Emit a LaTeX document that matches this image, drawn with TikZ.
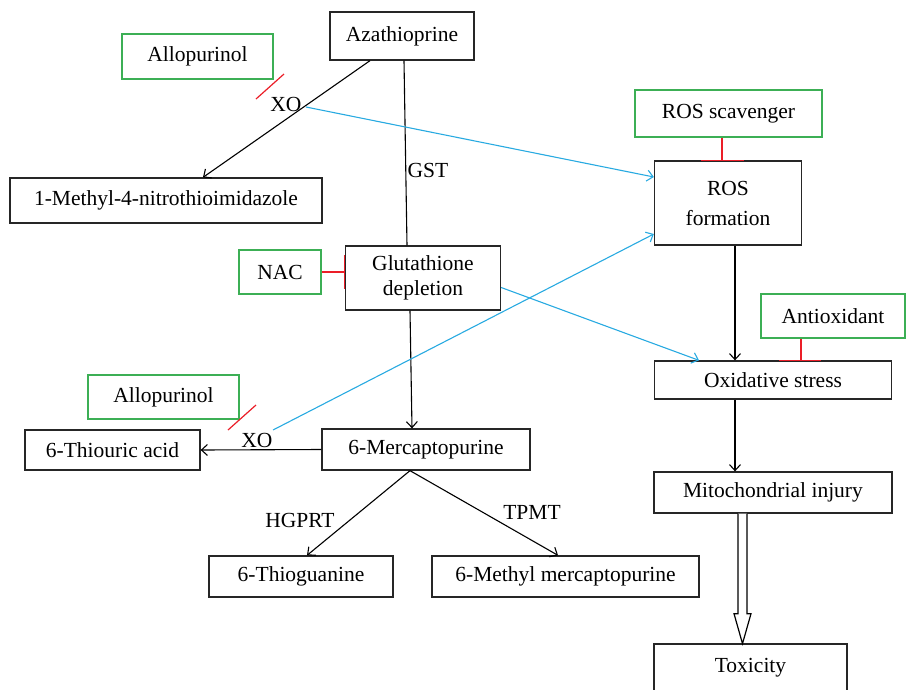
\documentclass[tikz,border=0pt]{standalone}
\usepackage{fontspec}
\setmainfont{Liberation Serif}
\usetikzlibrary{calc,arrows.meta}
\definecolor{grn}{RGB}{60,175,85}
\definecolor{blu}{RGB}{40,170,225}
\definecolor{rd}{RGB}{235,30,40}
\tikzset{
  bx/.style={draw=black!85, line width=1.3pt, inner sep=0pt, align=center, font=\fontsize{21.5}{25}\selectfont},
  gbx/.style={draw=grn, line width=1.1pt, inner sep=0pt, align=center, font=\fontsize{21.5}{25}\selectfont},
  lbl/.style={inner sep=0pt, font=\fontsize{21.5}{25}\selectfont},
  arr/.style={line width=1.1pt, -{Straight Barb[length=6pt,width=11pt,line width=1.1pt]}},
  barr/.style={draw=blu, line width=1.1pt, -{Straight Barb[length=6pt,width=11pt,line width=1.1pt]}},
  inh/.style={draw=rd, line width=1.2pt},
}
\begin{document}
\begin{tikzpicture}[x=1pt,y=-1pt]
\useasboundingbox (0,0) rectangle (906,689);
% nodes
\node[bx, minimum width=144pt, minimum height=48pt] (aza) at (402,36) {Azathioprine};
\node[gbx, minimum width=151pt, minimum height=45pt] (allo1) at (197.5,56.5) {Allopurinol};
\node[bx, minimum width=312pt, minimum height=45pt] (meth) at (166,200.5) {1-Methyl-4-nitrothioimidazole};
\node[bx, minimum width=155pt, minimum height=64pt] (glu) at (423,278) {Glutathione\\depletion};
\node[gbx, minimum width=82pt, minimum height=44pt] (nac) at (280,272) {NAC};
\node[gbx, minimum width=187pt, minimum height=47pt] (scav) at (728.5,113.5) {ROS scavenger};
\node[bx, minimum width=147pt, minimum height=84pt, font=\fontsize{21.5}{30}\selectfont] (ros) at (728,203) {ROS\\formation};
\node[gbx, minimum width=144pt, minimum height=44pt] (antiox) at (833,316) {Antioxidant};
\node[bx, minimum width=237pt, minimum height=38pt] (oxs) at (773,380) {Oxidative stress};
\node[bx, minimum width=238pt, minimum height=41pt] (mito) at (773,492.5) {Mitochondrial injury};
\node[bx, minimum width=193pt, minimum height=48pt] (tox) at (750.5,668) {Toxicity};
\node[bx, minimum width=208pt, minimum height=41pt] (mp) at (426,449.5) {6-Mercaptopurine};
\node[bx, minimum width=175pt, minimum height=40pt] (tua) at (112.5,450) {6-Thiouric acid};
\node[gbx, minimum width=151pt, minimum height=44pt] (allo2) at (163.5,397) {Allopurinol};
\node[bx, minimum width=184pt, minimum height=41pt] (tg) at (301,576.5) {6-Thioguanine};
\node[bx, minimum width=267pt, minimum height=41pt] (mmp) at (565.5,576.5) {6-Methyl mercaptopurine};
% labels
\node[lbl] (xo1) at (286,104) {XO};
\node[lbl] (xo2) at (257,440) {XO};
\node[lbl] (gst) at (428,170) {GST};
\node[lbl] (hgprt) at (300,520) {HGPRT};
\node[lbl] (tpmt) at (532,512) {TPMT};
% black connectors
\draw[arr] ($(aza.south)+(-32,0)$) -- ($(meth.north)+(37,0)$);
\draw[line width=1.1pt] ($(aza.south)+(2,0)$) -- ($(glu.north)+(-16,0)$);
\draw[arr] ($(glu.south)+(-13,0)$) -- ($(mp.north)+(-14,0)$);
\draw[arr] (mp.west) -- (tua.east);
\coordinate (mpb) at ($(mp.south)+(-16,0)$);
\draw[arr] (mpb) -- ($(tg.north)+(6,0)$);
\draw[arr] (mpb) -- ($(mmp.north)+(-7.5,0)$);
\draw[arr] ($(ros.south)+(7,0)$) -- ($(oxs.north)+(-38,0)$);
\draw[arr] ($(oxs.south)+(-38,0)$) -- ($(mito.north)+(-38,0)$);
% double arrow
\draw[line width=1.2pt, fill=white] ($(mito.south)+(-35,0)$) -- ++(0,100) -- ++(-4,0) -- ++(8.5,30) -- ++(8.5,-30) -- ++(-4,0) -- ++(0,-100);
% blue connectors
\coordinate (b1) at (306,107);
\draw[barr] (b1) -- ($(ros.west)+(0,-26)$);
\coordinate (b2) at (273,430);
\draw[barr] (b2) -- ($(ros.west)+(0,31)$);
\draw[barr] ($(glu.east)+(0,9.5)$) -- ($(oxs.north)+(-74,0)$);
% inhibitions
\coordinate (r1a) at (256,99); \coordinate (r1b) at (284,74);
\draw[inh] (r1a) -- (r1b);
\coordinate (r2a) at (228,430); \coordinate (r2b) at (256,405);
\draw[inh] (r2a) -- (r2b);
\draw[inh] (nac.east) -- (nac.east -| glu.west);
\draw[inh] ($(nac.east -| glu.west)+(0,-17)$) -- ($(nac.east -| glu.west)+(0,17)$);
\draw[inh] ($(scav.south)+(-6.5,0)$) -- ($(ros.north)+(-6,0)$);
\draw[inh] ($(ros.north)+(-27,0)$) -- ($(ros.north)+(16,0)$);
\draw[inh] ($(antiox.south)+(-32,0)$) -- ($(oxs.north)+(28,0)$);
\draw[inh] ($(oxs.north)+(6,0)$) -- ($(oxs.north)+(48,0)$);
\end{tikzpicture}
\end{document}
